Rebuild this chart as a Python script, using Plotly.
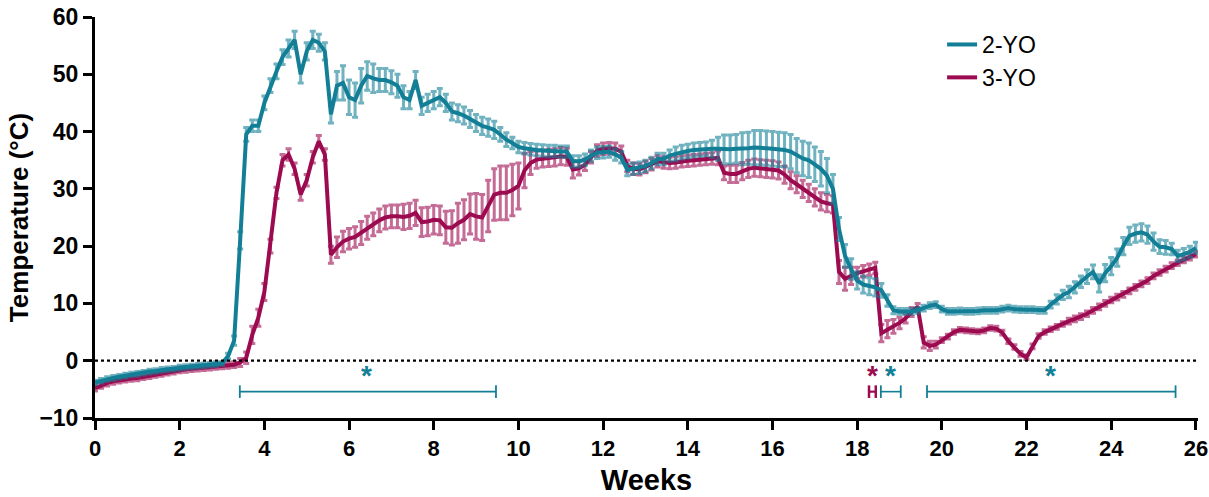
import plotly.graph_objects as go

# Daily samples (week = day / 7), weeks 0..26
days = list(range(183))
weeks = [d / 7 for d in days]

temp_2yo = [
    -3.8, -3.5, -3.2, -3.0, -2.8, -2.6, -2.4,
    -2.3, -2.1, -1.9, -1.8, -1.6, -1.5, -1.4,
    -1.2, -1.1, -1.0, -0.9, -0.8, -0.7, -0.6,
    -0.5, 0.8, 3.5, 21.0, 39.5, 41.0, 41.0,
    45.0, 48.0, 50.5, 53.0, 54.5, 56.0, 50.0,
    54.0, 56.0, 55.5, 54.0, 43.0, 48.0, 48.5,
    46.0, 45.5, 48.0, 49.7, 49.3, 49.0, 49.0,
    48.6, 48.0, 46.0, 45.5, 49.0, 44.5, 45.0,
    45.5, 46.0, 45.0, 43.5, 43.2, 42.8, 42.2,
    41.5, 41.0, 40.7, 40.3, 39.5, 38.6, 38.0,
    37.3, 37.1, 36.9, 36.8, 36.7, 36.6, 36.6,
    36.5, 36.5, 34.8, 34.8, 35.1, 35.8, 36.3,
    36.4, 36.5, 36.0, 35.5, 33.3, 33.5, 33.7,
    34.0, 34.5, 35.2, 35.2, 35.8, 36.1, 36.4,
    36.6, 36.8, 36.9, 37.0, 37.0, 37.0, 36.9,
    36.9, 37.0, 37.0, 37.1, 37.2, 37.2, 37.1,
    37.0, 36.9, 36.8, 36.5, 35.8, 35.3, 35.0,
    34.3, 33.5, 32.3, 30.0, 23.0, 18.3, 16.0,
    14.0, 13.3, 13.0, 12.8, 12.3, 10.5, 8.8,
    8.6, 8.6, 8.6, 8.8, 9.2, 9.6, 9.8,
    9.0, 8.6, 8.6, 8.7, 8.6, 8.6, 8.7,
    8.8, 8.8, 8.8, 9.0, 9.2, 9.0, 8.9,
    8.9, 8.9, 8.8, 8.8, 9.8, 10.7, 11.5,
    12.0, 12.8, 13.8, 14.7, 15.5, 13.5, 15.3,
    16.5, 18.0, 20.0, 21.8, 22.2, 22.4, 22.0,
    20.8, 19.9, 19.8, 19.5, 18.3, 18.6, 19.0,
    19.7,
]

err_2yo = [
    0.4, 0.4, 0.4, 0.4, 0.4, 0.4, 0.4,
    0.4, 0.4, 0.4, 0.4, 0.4, 0.4, 0.4,
    0.4, 0.4, 0.4, 0.4, 0.4, 0.4, 0.4,
    0.3, 0.5, 0.8, 1.5, 1.2, 1.0, 1.0,
    1.2, 1.2, 1.3, 1.3, 1.5, 1.5, 1.5,
    1.5, 1.5, 1.5, 1.5, 1.5, 2.5, 3.0,
    3.0, 3.0, 3.0, 2.5, 2.5, 2.0, 2.0,
    2.0, 2.0, 2.0, 1.5, 1.5, 1.5, 1.5,
    1.5, 1.5, 1.5, 1.5, 1.5, 1.5, 1.5,
    1.5, 1.5, 1.5, 1.5, 1.2, 1.2, 1.0,
    1.0, 1.0, 1.0, 1.0, 1.0, 1.0, 1.0,
    1.0, 1.0, 1.0, 1.0, 1.0, 1.0, 1.0,
    1.0, 1.0, 1.0, 1.0, 1.0, 1.0, 1.0,
    1.0, 1.0, 1.0, 1.0, 1.0, 1.2, 1.2,
    1.2, 1.2, 1.2, 1.2, 1.5, 2.0, 2.5,
    2.5, 2.5, 2.8, 2.8, 3.0, 3.0, 3.0,
    3.0, 3.0, 3.0, 3.0, 3.0, 3.0, 3.0,
    3.0, 3.0, 3.0, 2.5, 2.0, 2.0, 1.8,
    1.5, 1.5, 1.5, 1.5, 1.2, 1.0, 0.6,
    0.5, 0.5, 0.5, 0.5, 0.5, 0.5, 0.5,
    0.5, 0.5, 0.5, 0.5, 0.5, 0.5, 0.5,
    0.5, 0.5, 0.5, 0.5, 0.5, 0.5, 0.5,
    0.5, 0.5, 0.5, 0.5, 0.6, 0.8, 0.8,
    1.0, 1.0, 1.0, 1.2, 1.2, 1.5, 1.5,
    1.5, 1.5, 1.5, 1.5, 1.5, 1.5, 1.5,
    1.5, 1.2, 1.2, 1.0, 1.0, 1.0, 1.0,
    1.0,
]

temp_3yo = [
    -4.8, -4.3, -3.9, -3.6, -3.4, -3.2, -3.1,
    -3.0, -2.8, -2.6, -2.4, -2.2, -2.0, -1.8,
    -1.6, -1.5, -1.4, -1.3, -1.2, -1.1, -1.0,
    -0.9, -0.8, -0.7, -0.3, 0.5, 4.5, 7.5,
    12.0, 20.0, 29.3, 35.0, 36.0, 33.5, 29.0,
    31.5, 35.5, 38.3, 36.0, 18.5, 19.8, 20.8,
    21.3, 21.6, 22.3, 23.2, 23.8, 24.5, 25.0,
    25.2, 25.2, 25.1, 25.3, 25.8, 24.2, 24.3,
    24.6, 24.5, 23.3, 23.2, 24.0, 24.6, 25.6,
    25.2, 25.0, 27.0, 29.0, 29.3, 29.3, 29.8,
    30.5, 33.2, 34.5, 35.1, 35.3, 35.4, 35.5,
    35.7, 35.6, 33.4, 33.6, 34.2, 35.5, 36.7,
    37.0, 37.1, 37.0, 36.5, 34.0, 33.5, 33.4,
    33.8, 34.3, 34.8, 34.6, 34.5, 34.6, 34.8,
    34.9, 35.0, 35.1, 35.2, 35.3, 35.4, 32.8,
    32.6, 32.6, 33.1, 33.5, 33.7, 33.6, 33.5,
    33.4, 33.2, 32.5, 31.5, 30.8, 30.0, 29.3,
    28.5, 27.8, 27.5, 27.3, 15.5, 14.3, 14.8,
    15.3, 15.6, 15.9, 16.2, 4.8, 5.5, 6.0,
    6.6, 7.4, 8.5, 9.4, 3.2, 2.6, 2.8,
    3.6, 4.2, 5.0, 5.4, 5.3, 5.2, 5.1,
    5.3, 5.7, 5.6, 4.9, 3.4, 2.4, 1.2,
    0.6, 2.5, 4.3, 5.0, 5.5, 5.9, 6.4,
    6.9, 7.3, 7.7, 8.2, 8.8, 9.4, 10.0,
    10.6, 11.1, 11.6, 12.2, 12.8, 13.4, 14.0,
    14.8, 15.4, 16.0, 16.6, 17.1, 17.6, 18.1,
    18.6,
]

err_3yo = [
    0.5, 0.5, 0.5, 0.5, 0.5, 0.5, 0.5,
    0.5, 0.5, 0.5, 0.5, 0.5, 0.5, 0.5,
    0.5, 0.5, 0.5, 0.5, 0.5, 0.5, 0.5,
    0.5, 0.5, 0.5, 0.7, 1.0, 1.5, 1.5,
    1.5, 1.2, 1.0, 1.0, 1.0, 1.0, 1.0,
    1.0, 1.0, 1.0, 1.0, 1.5, 1.8, 1.8,
    1.8, 1.8, 2.0, 2.0, 2.0, 2.0, 2.0,
    2.0, 2.0, 2.2, 2.2, 2.2, 2.5, 2.5,
    2.5, 2.5, 2.8, 3.0, 3.5, 3.5, 3.5,
    4.0, 4.0, 4.5, 4.5, 4.7, 4.7, 4.5,
    4.0, 3.0, 2.0, 1.5, 1.5, 1.5, 1.5,
    1.5, 1.5, 1.5, 1.2, 1.0, 1.0, 1.0,
    1.0, 1.0, 1.0, 1.0, 1.0, 1.0, 1.0,
    1.0, 1.0, 1.0, 1.0, 1.0, 1.0, 1.0,
    1.0, 1.0, 1.0, 1.0, 1.0, 1.2, 1.2,
    1.5, 1.5, 1.5, 1.5, 1.5, 1.5, 1.5,
    1.5, 1.5, 1.5, 1.5, 1.5, 1.5, 1.5,
    1.5, 1.5, 1.5, 1.5, 2.0, 2.0, 1.5,
    1.0, 1.0, 1.0, 1.0, 1.5, 1.5, 1.2,
    1.0, 0.8, 0.8, 0.6, 1.0, 0.8, 0.6,
    0.4, 0.4, 0.4, 0.4, 0.4, 0.4, 0.4,
    0.4, 0.4, 0.4, 0.4, 0.4, 0.4, 0.4,
    0.4, 0.4, 0.4, 0.4, 0.4, 0.4, 0.4,
    0.5, 0.5, 0.5, 0.5, 0.5, 0.5, 0.5,
    0.5, 0.5, 0.5, 0.5, 0.5, 0.5, 0.5,
    0.5, 0.5, 0.5, 0.5, 0.5, 0.5, 0.5,
    0.5,
]

# Significance brackets (week start, week end, group)
sig_start = [3.42, 18.28, 18.56, 19.65]
sig_end = [9.47, 18.44, 19.03, 25.52]
sig_group = ["2-YO", "3-YO", "2-YO", "2-YO"]
sig_star_x = [6.42, 18.36, 18.78, 22.57]
sig_star_group = ["2-YO", "3-YO", "2-YO", "2-YO"]
sig_bar_y = -5.4
sig_star_y = -2.6

TEAL = "#137f96"
MAGENTA = "#9c0a50"
TEAL_ERR = "rgba(19,127,150,0.6)"
MAGENTA_ERR = "rgba(156,10,80,0.6)"
colors = {"2-YO": TEAL, "3-YO": MAGENTA}

FONT = "Liberation Sans, Arial, sans-serif"

fig = go.Figure()

fig.add_trace(go.Scatter(
    x=weeks, y=temp_3yo, name="3-YO", mode="lines",
    line=dict(color=MAGENTA, width=4),
    error_y=dict(type="data", array=err_3yo, visible=True,
                 color=MAGENTA_ERR, thickness=3, width=3),
    legendrank=2,
))
fig.add_trace(go.Scatter(
    x=weeks, y=temp_2yo, name="2-YO", mode="lines",
    line=dict(color=TEAL, width=4),
    error_y=dict(type="data", array=err_2yo, visible=True,
                 color=TEAL_ERR, thickness=3, width=3),
    legendrank=1,
))

# zero reference line
fig.add_shape(type="line", xref="paper", yref="y", x0=0, x1=1, y0=0, y1=0,
              line=dict(color="black", width=2.2, dash="dot"))

for s, e, g in zip(sig_start, sig_end, sig_group):
    fig.add_trace(go.Scatter(
        x=[s, e], y=[sig_bar_y, sig_bar_y], mode="lines+markers",
        line=dict(color=colors[g], width=1.6 if g == "2-YO" else 2.2),
        marker=dict(symbol="line-ns", size=9,
                    line=dict(color=colors[g], width=1.8 if g == "2-YO" else 2.5)),
        showlegend=False, hoverinfo="skip",
    ))

for sx, g in zip(sig_star_x, sig_star_group):
    fig.add_annotation(x=sx, y=sig_star_y, text="*", showarrow=False,
                       font=dict(family=FONT, size=28, color=colors[g], weight="bold"),
                       yanchor="middle", xanchor="center")

fig.update_layout(
    width=1209, height=497,
    margin=dict(l=95, r=11, t=17, b=79),
    plot_bgcolor="white", paper_bgcolor="white",
    font=dict(family=FONT, color="black"),
    showlegend=True,
    legend=dict(x=0.768, y=0.985, xanchor="left", yanchor="top",
                bgcolor="rgba(0,0,0,0)", font=dict(family=FONT, size=23, color="black"),
                itemwidth=30, tracegroupgap=2),
    xaxis=dict(range=[0, 26.05], tickvals=list(range(0, 27, 2)), automargin=False,
               showgrid=False, zeroline=False, showline=True, linecolor="black",
               linewidth=3, ticks="outside", ticklen=9, tickwidth=3, tickcolor="black",
               ticklabeloverflow="allow",
               tickfont=dict(family=FONT, size=22, color="black", weight="bold"),
               title=dict(text="Weeks",
                          font=dict(family=FONT, size=29, color="black", weight="bold"),
                          standoff=10)),
    yaxis=dict(range=[-10, 60], tickvals=list(range(-10, 61, 10)), automargin=False,
               showgrid=False, zeroline=False, showline=True, linecolor="black",
               linewidth=3, ticks="outside", ticklen=9, tickwidth=3, tickcolor="black",
               ticklabeloverflow="allow",
               tickfont=dict(family=FONT, size=23, color="black", weight="bold"),
               title=dict(text="Temperature (°C)",
                          font=dict(family=FONT, size=26, color="black", weight="bold"),
                          standoff=4)),
)

# remove the browser's default 8px body margin so the figure fills the window
fig.write_html("out.html", config={"displayModeBar": False},
               post_script="document.body.style.margin='0px';document.body.style.overflow='hidden';")
